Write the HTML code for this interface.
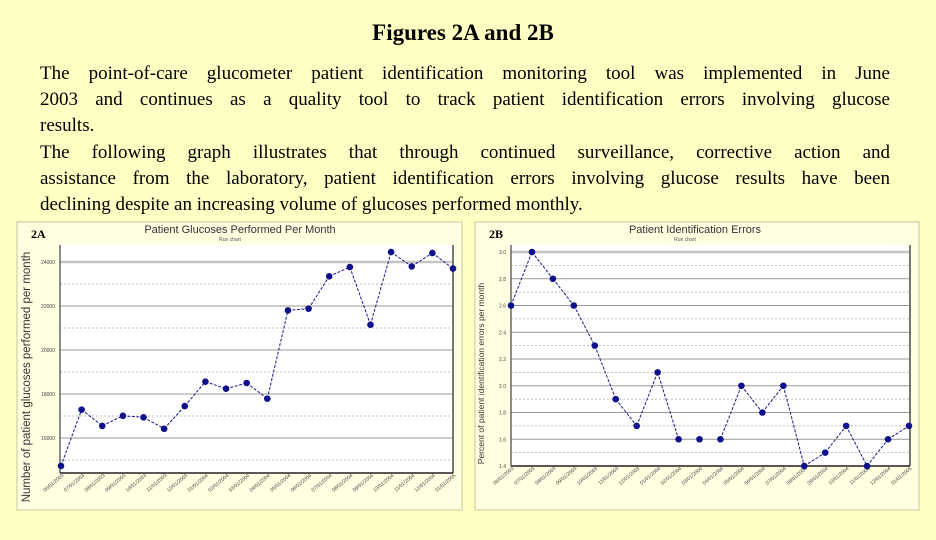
<!DOCTYPE html>
<html><head><meta charset="utf-8">
<style>
body{margin:0;width:936px;height:540px;background:#FFFFC4;overflow:hidden;font-family:"Liberation Serif",serif;}
#title{position:absolute;top:20px;left:0;width:926px;text-align:center;font-weight:bold;font-size:23px;color:#000;}
.l{position:absolute;left:40px;width:850px;font-size:19px;line-height:26px;height:26px;text-align:justify;text-align-last:justify;color:#000;margin:0;white-space:nowrap;}
.l.j{white-space:normal;}
.l.e{text-align-last:left;}
svg{position:absolute;left:0;top:0;}
</style></head><body>
<div id="title">Figures 2A and 2B</div>
<div>
<div class="l j" style="top:61px">The point-of-care glucometer patient identification monitoring tool was implemented in June</div>
<div class="l j" style="top:87px">2003 and continues as a quality tool to track patient identification errors involving glucose</div>
<div class="l j e" style="top:113px">results.</div>
</div>
<div>
<div class="l j" style="top:140px">The following graph illustrates that through continued surveillance, corrective action and</div>
<div class="l j" style="top:166px">assistance from the laboratory, patient identification errors involving glucose results have been</div>
<div class="l j e" style="top:192px">declining despite an increasing volume of glucoses performed monthly.</div>
</div>
<svg id="chart" width="936" height="540"></svg>
<script>
const aValues=[14730,17290,16550,17010,16940,16420,17450,18560,18240,18500,17790,21800,21880,23350,23770,21150,24450,23800,24410,23700];
const aTicks=[16000,18000,20000,22000,24000];
const aTickLabels=["16000","18000","20000","22000","24000"];
const bValues=[2.6,3.0,2.8,2.6,2.3,1.9,1.7,2.1,1.6,1.6,1.6,2.0,1.8,2.0,1.4,1.5,1.7,1.4,1.6,1.7];
const bConnected=[1,1,1,1,1,1,1,1,0,0,1,1,1,1,1,1,1,1,1];
const bTicks=[1.4,1.6,1.8,2.0,2.2,2.4,2.6,2.8,3.0];
const bTickLabels=["1.4","1.6","1.8","2.0","2.2","2.4","2.6","2.8","3.0"];
const dateLabels=["06/01/2003","07/01/2003","08/01/2003","09/01/2003","10/01/2003","11/01/2003","12/01/2003","01/01/2004","02/01/2004","03/01/2004","04/01/2004","05/01/2004","06/01/2004","07/01/2004","08/01/2004","09/01/2004","10/01/2004","11/01/2004","12/01/2004","01/01/2005"];

const svg=document.getElementById('chart');
const NS='http://www.w3.org/2000/svg';
function mk(tag,attrs,parent){const e=document.createElementNS(NS,tag);for(const k in attrs)e.setAttribute(k,attrs[k]);(parent||svg).appendChild(e);return e;}

function drawChart(cfg){
  const g=mk('g',{});
  
  
  const panel=mk('rect',{x:cfg.px,y:222,width:cfg.pw,height:288,fill:'#FFFFE2',stroke:'#C8C49A','stroke-width':1},g);
  
  
  const L=cfg.L,R=cfg.R,T=245,B=cfg.B;
  const yS=v=>cfg.y0+(v-cfg.v0)*(cfg.y1-cfg.y0)/(cfg.v1-cfg.v0);
  const n=cfg.values.length;
  const xS=i=>cfg.x0+i*(cfg.x1-cfg.x0)/(n-1);
  const plot=mk('rect',{x:L,y:T,width:R-L,height:B-T,fill:'#fff'},g);
  
  
  cfg.ticks.forEach((t,i)=>{
    const y=yS(t);
    const gl=mk('line',{x1:L,x2:R,y1:y,y2:y,stroke:i===cfg.ticks.length-1?'#c4c4c4':'#999','stroke-width':i===cfg.ticks.length-1?2.5:1},g);
    
    
    const lb=mk('text',{x:L-5,y:y+2,'font-size':5,'text-anchor':'end',fill:'#444','font-family':'Liberation Sans, sans-serif'},g);
    lb.textContent=cfg.tickLabels[i];
    
    
    if(i<cfg.ticks.length-1){
      const ym=yS(t+cfg.step/2);
      if(ym>T&&ym<B){
        const dl=mk('line',{x1:L,x2:R,y1:ym,y2:ym,stroke:'#aaa','stroke-dasharray':'2,2','stroke-width':0.8},g);
        
        
      }
    }
  });
  const ym0=yS(cfg.ticks[0]-cfg.step/2);
  if(ym0>T&&ym0<B){const dl=mk('line',{x1:L,x2:R,y1:ym0,y2:ym0,stroke:'#aaa','stroke-dasharray':'2,2','stroke-width':0.8},g);
    }
  mk('line',{x1:L,x2:L,y1:T,y2:B,stroke:'#666','stroke-width':1.5},g);
  mk('line',{x1:R,x2:R,y1:T,y2:B,stroke:'#777','stroke-width':2},g);
  mk('line',{x1:L,x2:R,y1:B,y2:B,stroke:'#222','stroke-width':1.5},g);
  dateLabels.forEach((d,i)=>{
    const x=xS(i);
    const t=mk('text',{x:x+3,y:B+3,'font-size':5,'text-anchor':'end',fill:'#444','font-family':'Liberation Sans, sans-serif',transform:`rotate(-40 ${x+3} ${B+3})`},g);
    t.textContent=d;
    
    
  });
  for(let i=0;i<n-1;i++){
    if(cfg.connected&&!cfg.connected[i])continue;
    const s=mk('line',{x1:xS(i),y1:yS(cfg.values[i]),x2:xS(i+1),y2:yS(cfg.values[i+1]),stroke:'#1a1a8a','stroke-width':1,'stroke-dasharray':'3,1.5'},g);
    
    
  }
  cfg.values.forEach((v,i)=>{
    const c=mk('circle',{cx:xS(i),cy:yS(v),r:3.3,fill:'#10108c'},g);
    
    
  });
  const tt=mk('text',{x:cfg.titleX,y:233,'font-size':11,'text-anchor':'middle',fill:'#333','font-family':'Liberation Sans, sans-serif'},g);
  tt.textContent=cfg.title;
  
  
  const st=mk('text',{x:cfg.titleX-10,y:241,'font-size':5,'text-anchor':'middle',fill:'#555','font-family':'Liberation Sans, sans-serif'},g);
  st.textContent='Run chart';
  
  
  const lab=mk('text',{x:cfg.px+14,y:238,'font-size':12,'font-weight':'bold',fill:'#000','font-family':'Liberation Serif, serif'},g);
  lab.textContent=cfg.label;
  
  
  const yt=mk('text',{x:cfg.ytX,y:(T+B)/2+18,'font-size':cfg.ytSize,'text-anchor':'middle',fill:'#333','font-family':'Liberation Sans, sans-serif',transform:`rotate(-90 ${cfg.ytX} ${(T+B)/2+18})`},g);
  yt.textContent=cfg.yTitle;
  
  
}
drawChart({name:'chart-2a',px:17,pw:445,L:60,R:453,B:473,x0:61,x1:453,y0:438,y1:350,v0:16000,v1:20000,
  values:aValues,ticks:aTicks,tickLabels:aTickLabels,step:2000,title:'Patient Glucoses Performed Per Month',titleX:240,
  label:'2A',yTitle:'Number of patient glucoses performed per month',ytX:30,ytSize:11.5});
drawChart({name:'chart-2b',px:475,pw:444,L:511,R:910,B:466,x0:511,x1:909,y0:466,y1:252,v0:1.4,v1:3.0,
  values:bValues,ticks:bTicks,tickLabels:bTickLabels,step:0.2,connected:bConnected,title:'Patient Identification Errors',titleX:695,
  label:'2B',yTitle:'Percent of patient identification errors per month',ytX:484,ytSize:8.5});
</script>
</body></html>
